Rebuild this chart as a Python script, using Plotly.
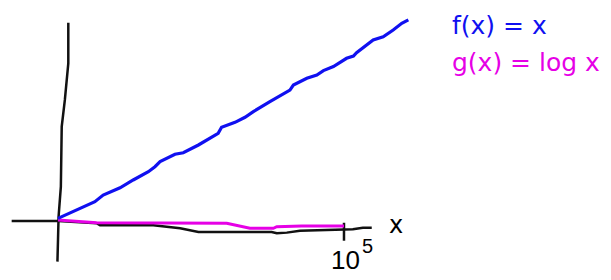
import plotly.graph_objects as go

# f(x) = x  (x in thousands, hand-sketched values)
f_x = [0, 12.9, 15.8, 21.7, 26.3, 31.6, 33.9, 35.7, 40.9, 43.8, 49.1, 56.0, 57.2, 61.9,
       65.4, 68.3, 74.1, 80.0, 81.1, 82.3, 87.0, 90.5, 92.8, 96.3, 100.9, 103.3, 104.4,
       110.2, 113.7, 117.2, 120.2, 122.5]
f_y = [1.0, 11.3, 15.4, 19.9, 24.7, 29.8, 32.9, 36.0, 40.6, 41.5, 46.3, 53.5, 57.2, 60.3,
       63.4, 66.9, 73.0, 79.2, 80.2, 83.3, 87.5, 89.5, 92.2, 94.7, 99.8, 101.2, 103.3,
       111.1, 113.1, 117.3, 121.4, 123.5]

# g(x) = log x (sketched)
g_x = [0, 13.5, 59.0, 67.1, 75.3, 76.5, 85.2, 100.0]
g_y = [0, -1.7, -2.0, -5.1, -5.1, -4.1, -3.7, -3.7]

# hand-drawn x axis
ax_x = [-16.2, 0.1, 13.5, 14.7, 33.3, 42.7, 49.1, 74.7, 76.5, 80.0, 84.6, 99.8, 103.1, 106.6, 109.7]
ax_y = [-0.6, -0.6, -2.0, -3.3, -3.3, -5.1, -7.4, -7.4, -8.2, -7.8, -6.6, -5.7, -5.7, -4.8, -4.8]

# hand-drawn y axis
ay_x = [3.6, 3.6, 2.4, 1.3, 1.0, 0.2, 0.0, -0.2]
ay_y = [121.8, 96.7, 74.1, 57.6, 20.6, 2.0, -12.3, -25.7]

# tick at 10^5
tick_x = [100, 100]
tick_y = [-1.7, -12.8]

fig = go.Figure()
fig.add_trace(go.Scatter(x=ax_x, y=ax_y, mode="lines", line=dict(color="#111111", width=2.5)))
fig.add_trace(go.Scatter(x=ay_x, y=ay_y, mode="lines", line=dict(color="#111111", width=2.5)))
fig.add_trace(go.Scatter(x=tick_x, y=tick_y, mode="lines", line=dict(color="#111111", width=2.5)))
fig.add_trace(go.Scatter(x=g_x, y=g_y, mode="lines", line=dict(color="#e600e6", width=3)))
fig.add_trace(go.Scatter(x=f_x, y=f_y, mode="lines", line=dict(color="#1010f0", width=3.2)))

ann = [
    dict(text="f(x) = x", x=450/611, y=1-25/280, xanchor="left", yanchor="middle",
         font=dict(family="DejaVu Sans", size=25, color="#1010f0")),
    dict(text="g(x) = log x", x=450/611, y=1-62/280, xanchor="left", yanchor="middle",
         font=dict(family="DejaVu Sans", size=25, color="#e600e6")),
    dict(text="x", x=396/611, y=1-225/280, xanchor="center", yanchor="middle",
         font=dict(family="DejaVu Sans", size=24, color="#000000")),
    dict(text="10", x=345/611, y=1-260/280, xanchor="center", yanchor="middle",
         font=dict(family="Liberation Sans", size=26, color="#000000")),
    dict(text="5", x=367/611, y=1-246/280, xanchor="center", yanchor="middle",
         font=dict(family="Liberation Sans", size=20, color="#000000")),
]
for a in ann:
    a.update(xref="paper", yref="paper", showarrow=False)

fig.update_layout(
    width=611, height=280, margin=dict(l=0, r=0, t=0, b=0),
    paper_bgcolor="white", plot_bgcolor="white", showlegend=False,
    xaxis=dict(range=[-20.28, 193.36], visible=False),
    yaxis=dict(range=[-37.04, 135.8], visible=False),
    annotations=ann,
)
fig.write_html("out.html")
